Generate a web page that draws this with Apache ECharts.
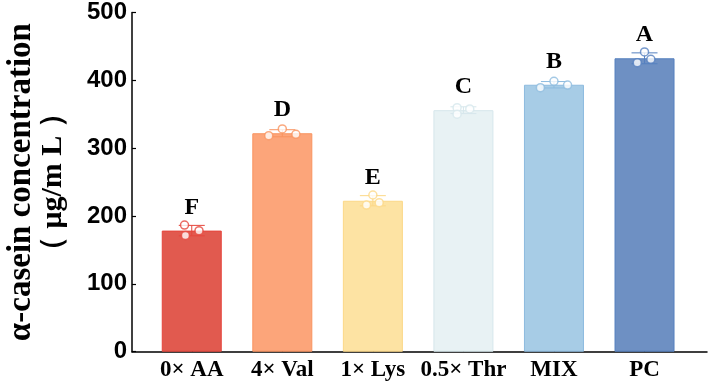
<!DOCTYPE html>
<html>
<head>
<meta charset="utf-8">
<script src="https://cdn.jsdelivr.net/npm/echarts@6/dist/echarts.min.js"></script>
<style>html,body{margin:0;padding:0;background:#fff;}#c{width:709px;height:389px;}</style>
</head>
<body>
<div id="c"></div>
<script>
// ---- data ----
var categories = ['0× AA', '4× Val', '1× Lys', '0.5× Thr', 'MIX', 'PC'];
var means = [178.5, 322, 222.5, 356, 393.5, 432.5];
var sds = [7.7, 5.2, 7.5, 5.0, 4.7, 8.0];
var letters = ['F', 'D', 'E', 'C', 'B', 'A'];
var rep1 = [186.7, 318.4, 231.0, 359.7, 389.2, 441.8];
var rep2 = [178.4, 328.3, 216.2, 357.8, 398.6, 426.0];
var rep3 = [171.3, 320.5, 219.6, 350.0, 393.1, 431.0];
var jitter1 = [-0.08, -0.15, 0.0, -0.07, -0.15, 0.0];
var jitter2 = [0.08, 0.0, -0.07, 0.07, 0.0, -0.08];
var jitter3 = [-0.07, 0.15, 0.07, -0.07, 0.15, 0.07];
var yTicks = [0, 100, 200, 300, 400, 500];

var fillColors = ['#E15A4F', '#FCA57A', '#FDE3A3', '#E8F2F4', '#A7CCE6', '#6E90C3'];
var strokeColors = ['#E6463C', '#F9935F', '#FCD887', '#D6E7EC', '#8DBBDF', '#5580BF'];

var barData = categories.map(function (c, i) {
  return { value: [i, means[i]], itemStyle: { color: fillColors[i], borderColor: strokeColors[i], borderWidth: 1 } };
});
var errData = categories.map(function (c, i) { return [i, means[i] - sds[i], means[i] + sds[i]]; });
var pts = [];
[[rep1, jitter1], [rep2, jitter2], [rep3, jitter3]].forEach(function (pair) {
  categories.forEach(function (c, i) {
    pts.push({ value: [i + pair[1][i], pair[0][i]], itemStyle: { color: '#fff', borderColor: strokeColors[i], borderWidth: 1.5 } });
  });
});

var chart = echarts.init(document.getElementById('c'), null, { renderer: 'canvas' });
chart.setOption({
  animation: false,
  grid: { left: 132, right: 2, top: 12.5, bottom: 37.3, containLabel: false, outerBoundsMode: 'none' },
  xAxis: {
    type: 'value', min: -0.66, max: 5.69,
    splitLine: { show: false },
    axisLine: { show: true, onZero: false, lineStyle: { color: '#000', width: 1.5 } },
    axisTick: { show: true, inside: true, length: 5, customValues: [0, 1, 2, 3, 4, 5], lineStyle: { color: '#000', width: 1.2 } },
    axisLabel: {
      customValues: [0, 1, 2, 3, 4, 5],
      formatter: function (v) { return categories[Math.round(v)]; },
      fontFamily: 'Liberation Serif', fontWeight: 'bold', fontSize: 23, color: '#000', margin: 7
    }
  },
  yAxis: {
    type: 'value', min: 0, max: 500, interval: 100,
    splitLine: { show: false },
    axisLine: { show: true, onZero: false, lineStyle: { color: '#000', width: 1.5 } },
    axisTick: { show: true, inside: true, length: 4, lineStyle: { color: '#000', width: 1.2 } },
    axisLabel: { fontFamily: 'Liberation Sans', fontWeight: 'bold', fontSize: 24, color: '#000', margin: 5 },
    name: '{a|α-casein concentration}\n{b|（ μg/m L ）}',
    nameLocation: 'middle', nameRotate: 90, nameGap: 63,
    nameTextStyle: {
      color: '#000',
      rich: {
        a: { fontFamily: 'Liberation Serif', fontWeight: 'bold', fontSize: 33, lineHeight: 32, color: '#000' },
        b: { fontFamily: 'Liberation Serif', fontWeight: 'bold', fontSize: 30, lineHeight: 32, color: '#000' }
      }
    }
  },
  series: [
    {
      type: 'bar', data: barData, barWidth: 60, z: 2,
      label: {
        show: true, position: 'top', distance: 11,
        formatter: function (p) { return letters[p.dataIndex]; },
        fontFamily: 'Liberation Serif', fontWeight: 'bold', fontSize: 24, color: '#000'
      }
    },
    {
      type: 'custom', z: 3, data: errData,
      renderItem: function (params, api) {
        var i = api.value(0);
        var lo = api.coord([i, api.value(1)]);
        var hi = api.coord([i, api.value(2)]);
        var w = 13;
        var col = strokeColors[params.dataIndex];
        var st = { stroke: col, lineWidth: 1 };
        return { type: 'group', children: [
          { type: 'line', shape: { x1: lo[0], y1: lo[1], x2: hi[0], y2: hi[1] }, style: st },
          { type: 'line', shape: { x1: hi[0] - w, y1: hi[1], x2: hi[0] + w, y2: hi[1] }, style: st },
          { type: 'line', shape: { x1: lo[0] - w, y1: lo[1], x2: lo[0] + w, y2: lo[1] }, style: st }
        ] };
      }
    },
    {
      type: 'scatter', z: 4, data: pts, symbol: 'circle', symbolSize: 8
    }
  ]
});
</script>
</body>
</html>
